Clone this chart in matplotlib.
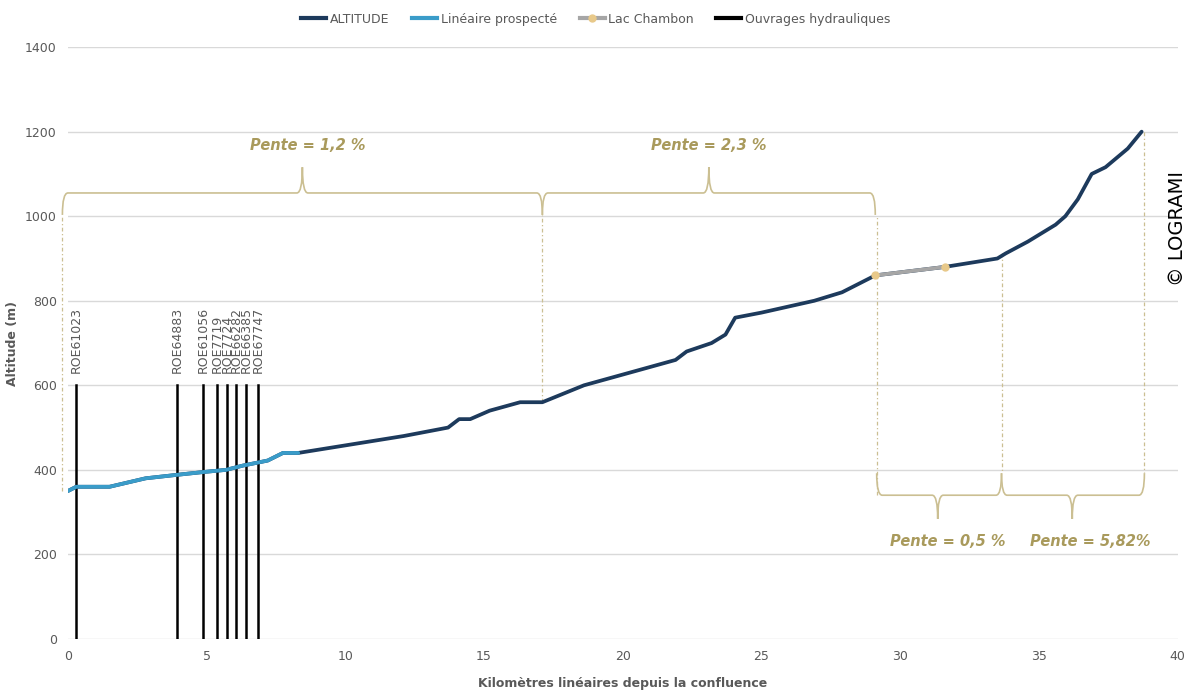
import matplotlib
matplotlib.use("Agg")
import matplotlib.pyplot as plt
from matplotlib.path import Path
from matplotlib.patches import PathPatch
from matplotlib.lines import Line2D

# profil en long (km, m)
km_alt = [0, 0.3, 1.5, 2.8, 3.9, 4.9, 5.7, 6.3, 7.2, 7.75, 8.3, 12.1, 13.7, 14.1, 14.5,
          15.2, 16.3, 17.1, 18.6, 21.9, 22.3, 23.2, 23.7, 24.05, 25.0, 26.9, 27.9, 29.1,
          31.6, 33.5, 33.8, 34.6, 35.6, 35.95, 36.4, 36.9, 37.4, 38.2, 38.7]
alt = [350, 360, 360, 380, 388, 395, 400, 410, 422, 440, 440, 480, 500, 520, 520,
       540, 560, 560, 600, 660, 680, 700, 720, 760, 772, 800, 820, 860,
       880, 900, 912, 940, 980, 1000, 1040, 1100, 1116, 1160, 1200]

km_prosp = [0, 0.3, 1.5, 2.8, 3.9, 4.9, 5.7, 6.3, 7.2, 7.75, 8.3]
alt_prosp = [350, 360, 360, 380, 388, 395, 400, 410, 422, 440, 440]

km_lac = [29.1, 31.6]
alt_lac = [860, 880]

roe_names = ["ROE61023", "ROE64883", "ROE61056", "ROE7719", "ROE7724", "ROE66282", "ROE66385", "ROE67747"]
roe_km = [0.3, 3.93, 4.86, 5.37, 5.73, 6.05, 6.41, 6.85]
roe_h = 600

# accolades de pente : (debut, fin, pointe, texte, x du texte)
pente_haut = [(-0.2, 17.1, 8.45, "Pente = 1,2 %", 8.65), (17.1, 29.1, 23.1, "Pente = 2,3 %", 23.1)]
pente_bas = [(29.15, 33.65, 31.35, "Pente = 0,5 %", 31.7), (33.65, 38.8, 36.2, "Pente = 5,82%", 36.85)]
reperes = [(-0.2, 350, 1003), (17.1, 560, 1003), (29.15, 340, 1003), (33.65, 912, 392), (38.8, 1200, 392)]

NAVY = "#1d3a5c"
BLUE = "#3a9cc9"
GOLD = "#a99a5c"
BRACE = "#cbbf92"
GREY_TXT = "#595959"

plt.rcParams['font.family'] = ['DejaVu Sans']

fig = plt.figure(figsize=(11.92, 6.93), dpi=100)
ax = fig.add_axes([0.057, 0.078, 0.931, 0.854])


def brace(ax, x0, x1, xm, y_end, y_b, y_tip, rx=0.2):
    verts = [(x0, y_end), (x0, y_b), (x0 + rx, y_b),
             (xm - rx, y_b), (xm, y_b), (xm, y_tip),
             (xm, y_b), (xm + rx, y_b),
             (x1 - rx, y_b), (x1, y_b), (x1, y_end)]
    codes = [Path.MOVETO, Path.CURVE3, Path.CURVE3,
             Path.LINETO, Path.CURVE3, Path.CURVE3,
             Path.CURVE3, Path.CURVE3,
             Path.LINETO, Path.CURVE3, Path.CURVE3]
    ax.add_patch(PathPatch(Path(verts, codes), fill=False, edgecolor=BRACE, lw=1.2,
                           zorder=2, clip_on=False))


for x, ya, yb in reperes:
    ax.plot([x, x], [ya, yb], color=BRACE, lw=0.9, ls=(0, (3, 2, 1, 2)), zorder=1, clip_on=False)

for x0, x1, xm, txt, xt in pente_haut:
    brace(ax, x0, x1, xm, 1003, 1055, 1116)
    ax.text(xt, 1168, txt, color=GOLD, fontsize=10.5, fontweight='bold', style='italic',
            ha='center', va='center')
for x0, x1, xm, txt, xt in pente_bas:
    brace(ax, x0, x1, xm, 392, 340, 284)
    ax.text(xt, 230, txt, color=GOLD, fontsize=10.5, fontweight='bold', style='italic',
            ha='center', va='center')

for name, x in zip(roe_names, roe_km):
    ax.plot([x, x], [0, roe_h], color="black", lw=1.8, zorder=3)
    ax.text(x, roe_h + 30, name, rotation=90, ha='center', va='bottom', fontsize=9,
            color=GREY_TXT)

ax.plot(km_alt, alt, color=NAVY, lw=2.7, zorder=4, solid_capstyle='round')
ax.plot(km_prosp, alt_prosp, color=BLUE, lw=2.7, zorder=5, solid_capstyle='round')
ax.plot(km_lac, alt_lac, color="#a6a6a6", lw=2.7, zorder=5, marker='o', ms=5,
        mfc="#e8c98a", mec="#e8c98a")

ax.set_xlim(0, 40)
ax.set_ylim(0, 1400)
ax.set_xticks(range(0, 41, 5))
ax.set_yticks(range(0, 1401, 200))
ax.grid(axis='y', color="#d9d9d9", lw=1)
ax.set_axisbelow(True)
for s in ax.spines.values():
    s.set_visible(False)
ax.tick_params(length=0, colors=GREY_TXT, labelsize=9, pad=8)
ax.set_xlabel("Kilomètres linéaires depuis la confluence", fontsize=9, fontweight='bold',
              color=GREY_TXT, labelpad=10)
ax.set_ylabel("Altitude (m)", fontsize=9, fontweight='bold', color=GREY_TXT, labelpad=4)

handles = [Line2D([], [], color=NAVY, lw=3),
           Line2D([], [], color=BLUE, lw=3),
           Line2D([], [], color="#a6a6a6", lw=3, marker='o', ms=5, mfc="#e8c98a", mec="#e8c98a"),
           Line2D([], [], color="black", lw=3)]
labels = ["ALTITUDE", "Linéaire prospecté", "Lac Chambon", "Ouvrages hydrauliques"]
fig.legend(handles, labels, loc='upper center', bbox_to_anchor=(0.5, 0.998), ncol=4, frameon=False,
           fontsize=9, handlelength=2.0, handletextpad=0.3, columnspacing=1.8, labelcolor=GREY_TXT)

fig.text(0.988, 0.67, "© LOGRAMI", rotation=90, ha='center', va='center', fontsize=14)

fig.savefig("out.png", dpi=100)
